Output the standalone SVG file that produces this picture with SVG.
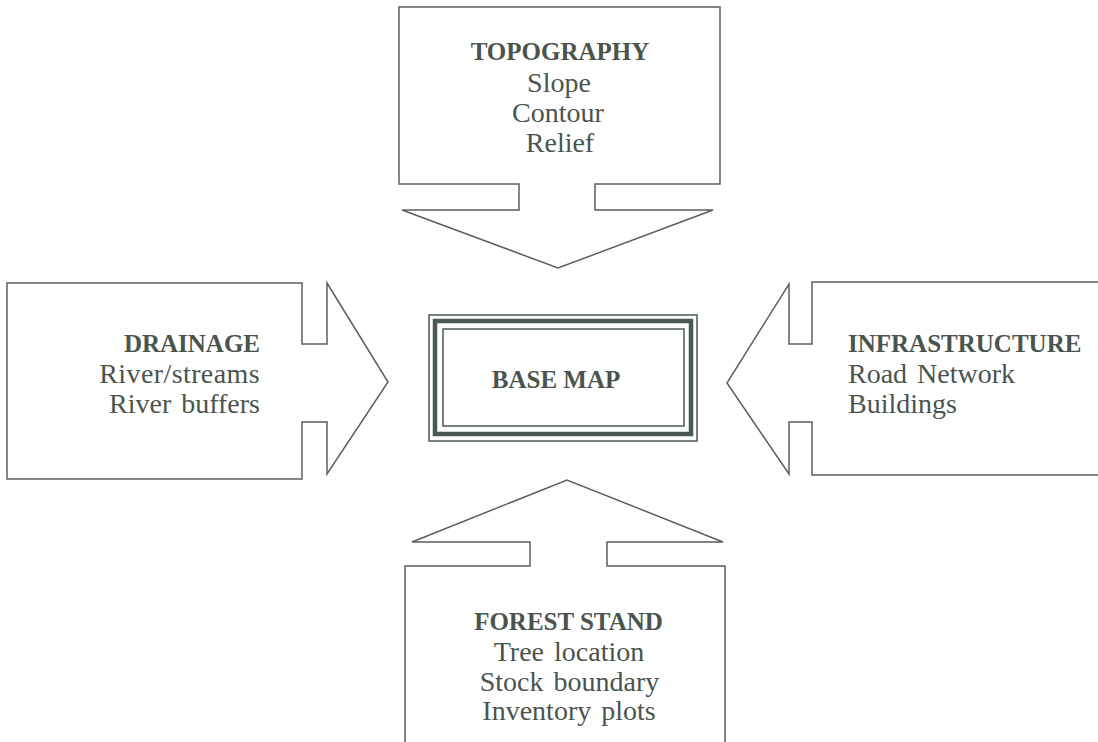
<svg xmlns="http://www.w3.org/2000/svg" width="1098" height="742" viewBox="0 0 1098 742">
<style>
.shape{fill:none;stroke:#5a605c;stroke-width:1.5;stroke-linejoin:miter}
.t{font-family:"Liberation Serif","Times New Roman",serif;fill:#4a544d;font-size:28px;word-spacing:3px}
.b{font-weight:bold;font-size:25px;word-spacing:0}
.m{text-anchor:middle}
.e{text-anchor:end}
.frame{fill:none;stroke:#4a5a50}
</style>
<rect width="1098" height="742" fill="#ffffff"/>
<g id="topography">
<path class="shape" d="M519,184 L399,184 L399,7 L720,7 L720,184 L595,184 L595,210 L713,210 L558,268 L402,210 L519,210 Z"/>
<text class="t b m" x="560" y="60">TOPOGRAPHY</text>
<text class="t m" x="559" y="92">Slope</text>
<text class="t m" x="558" y="122">Contour</text>
<text class="t m" x="560" y="152">Relief</text>
</g>
<g id="drainage">
<path class="shape" d="M302,344 L302,283 L7,283 L7,479 L302,479 L302,422 L327,422 L327,474 L388,382 L327,283 L327,344 Z"/>
<text class="t b e" x="260" y="352">DRAINAGE</text>
<text class="t e" x="260" y="383" letter-spacing="0.4">River/streams</text>
<text class="t e" x="260" y="413">River buffers</text>
</g>
<g id="infrastructure">
<path class="shape" d="M1100,282 L812,282 L812,344 L789,344 L789,284 L727,383 L789,474 L789,422 L812,422 L812,475 L1100,475"/>
<text class="t b" x="848" y="352">INFRASTRUCTURE</text>
<text class="t" x="848" y="383">Road Network</text>
<text class="t" x="848" y="413">Buildings</text>
</g>
<g id="base-map">
<rect class="frame" x="429" y="315" width="268" height="126" stroke-width="1.5"/>
<rect class="frame" x="435" y="321" width="256" height="113" stroke-width="4.5"/>
<rect class="frame" x="443" y="329" width="241" height="97" stroke-width="1.5"/>
<text class="t b m" x="556" y="388" font-size="24">BASE MAP</text>
</g>
<g id="forest-stand">
<path class="shape" d="M405,745 L405,566 L530,566 L530,542 L412,542 L567,480 L723,542 L607,542 L607,566 L725,566 L725,745"/>
<text class="t b m" x="568.5" y="630">FOREST STAND</text>
<text class="t m" x="569" y="661">Tree location</text>
<text class="t m" x="569.5" y="691">Stock boundary</text>
<text class="t m" x="569" y="720">Inventory plots</text>
</g>
<g id="connectors"></g>
</svg>
